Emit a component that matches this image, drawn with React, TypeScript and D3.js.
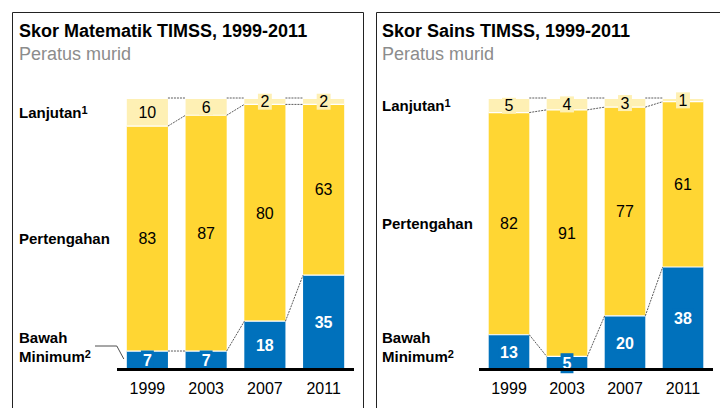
import React from 'react';
import * as d3 from 'd3';

const years = ['1999', '2003', '2007', '2011'];

const mathLanjutan = [10, 6, 2, 2];
const mathPertengahan = [83, 87, 80, 63];
const mathBawah = [7, 7, 18, 35];

const sciLanjutan = [5, 4, 3, 1];
const sciPertengahan = [82, 91, 77, 61];
const sciBawah = [13, 5, 20, 38];

const FONT = '"Liberation Sans", Arial, Helvetica, sans-serif';
const LIGHT = '#FEF0B4';
const YELLOW = '#FFD633';
const BLUE = '#0071BC';

type PanelProps = {
    title: string;
    left: number;
    x0: number;
    x1: number;
    lanj: number[];
    pert: number[];
    bawah: number[];
    leader?: boolean;
};

const Panel = ({ title, left, x0, x1, lanj, pert, bawah, leader }: PanelProps) => {
    const x = d3.scaleBand<string>().domain(years).range([x0, x1]).paddingInner(0.3).paddingOuter(0.15);
    const y = d3.scaleLinear().domain([0, 100]).range([370, 99]);
    const bw = x.bandwidth();
    const labelX = left + 7;

    // cumulative boundaries for each bar
    const rows = years.map((yr, i) => {
        const b = bawah[i];
        const p = b + pert[i];
        const t = p + lanj[i];
        return { yr, i, b, p, t };
    });

    const digitW = 8.9;
    const mid = (a: number, b: number) => (y(a) + y(b)) / 2;

    const first = rows[0];

    return (
        <g>
            <text x={labelX} y={37} fontFamily={FONT} fontSize={18} fontWeight="bold" fill="#000">{title}</text>
            <text x={labelX} y={59.5} fontFamily={FONT} fontSize={18} fill="#8c8c8c">Peratus murid</text>

            <g fontFamily={FONT} fontSize={15} fontWeight="bold">
                <text x={labelX} y={mid(first.p, first.t) + 5}>Lanjutan<tspan fontSize={11} dy={-4}>1</tspan></text>
                <text x={labelX} y={mid(first.b, first.p) + 5}>Pertengahan</text>
                <text x={labelX} y={343}>Bawah</text>
                <text x={labelX} y={362}>Minimum<tspan fontSize={11} dy={-4}>2</tspan></text>
            </g>
            {leader && (
                <polyline
                    points={`${labelX + 76},346 ${(x(years[0]) as number) - 10},346 ${(x(years[0]) as number) - 3},359`}
                    fill="none" stroke="#222" strokeWidth={0.8}
                />
            )}

            {rows.map(d => {
                const bx = x(d.yr) as number;
                return (
                    <g key={d.yr}>
                        <rect x={bx} y={y(d.t)} width={bw} height={y(d.p) - y(d.t)} fill={LIGHT} />
                        <rect x={bx} y={y(d.p)} width={bw} height={y(d.b) - y(d.p)} fill={YELLOW} />
                        <rect x={bx} y={y(d.b)} width={bw} height={y(0) - y(d.b)} fill={BLUE} />
                        <line x1={bx} x2={bx + bw} y1={y(d.p)} y2={y(d.p)} stroke="#fff" strokeWidth={1.2} />
                        <line x1={bx} x2={bx + bw} y1={y(d.b)} y2={y(d.b)} stroke="#fff" strokeWidth={1.2} />
                    </g>
                );
            })}

            {rows.slice(0, -1).map((d, k) => {
                const n = rows[k + 1];
                const xa = (x(d.yr) as number) + bw;
                const xb = x(n.yr) as number;
                return (
                    <g key={`c-${d.yr}`} stroke="#333" strokeWidth={0.8} strokeDasharray="2,1">
                        <line x1={xa} x2={xb} y1={y(d.t) - 1} y2={y(n.t) - 1} />
                        <line x1={xa} x2={xb} y1={y(d.p)} y2={y(n.p)} />
                        <line x1={xa} x2={xb} y1={y(d.b)} y2={y(n.b)} />
                    </g>
                );
            })}

            {rows.map(d => {
                const cx = (x(d.yr) as number) + bw / 2;
                const lc = mid(d.p, d.t);
                const pc = mid(d.b, d.p);
                const bc = mid(0, d.b);
                const lw = String(lanj[d.i]).length * digitW + 5;
                const bwid = String(bawah[d.i]).length * digitW + 4;
                return (
                    <g key={`l-${d.yr}`} fontFamily={FONT} fontSize={16} textAnchor="middle">
                        <rect x={cx - lw / 2} y={lc - 8} width={lw} height={16} fill={LIGHT} />
                        <text x={cx} y={lc + 5.7} fill="#000">{lanj[d.i]}</text>
                        <text x={cx} y={pc + 5.7} fill="#000">{pert[d.i]}</text>
                        <rect x={cx - bwid / 2} y={bc - 10} width={bwid} height={20} fill={BLUE} />
                        <text x={cx} y={bc + 5.7} fill="#fff" fontWeight="bold">{bawah[d.i]}</text>
                        <text x={cx} y={394} fill="#000">{d.yr}</text>
                    </g>
                );
            })}

            <line x1={x0 - 1} x2={x1 + 1} y1={369.5} y2={369.5} stroke="#000" strokeWidth={3} />
        </g>
    );
};

const App = () => {
    const width = 720;
    const height = 408;
    return (
        <svg width={width} height={height} viewBox={`0 0 ${width} ${height}`}
            style={{ position: 'absolute', left: 0, top: 0, background: '#fff' }}>
            <rect width={width} height={height} fill="#fff" />
            <path d="M12.5,408 V12.5 H363.5 V408" fill="none" stroke="#222" strokeWidth={1} />
            <path d="M376.5,408 V12.5 H720" fill="none" stroke="#222" strokeWidth={1} />

            <Panel title="Skor Matematik TIMSS, 1999-2011" left={12} x0={118} x1={353}
                lanj={mathLanjutan} pert={mathPertengahan} bawah={mathBawah} leader />
            <Panel title="Skor Sains TIMSS, 1999-2011" left={375} x0={480} x1={712}
                lanj={sciLanjutan} pert={sciPertengahan} bawah={sciBawah} />
        </svg>
    );
};

export default App;
